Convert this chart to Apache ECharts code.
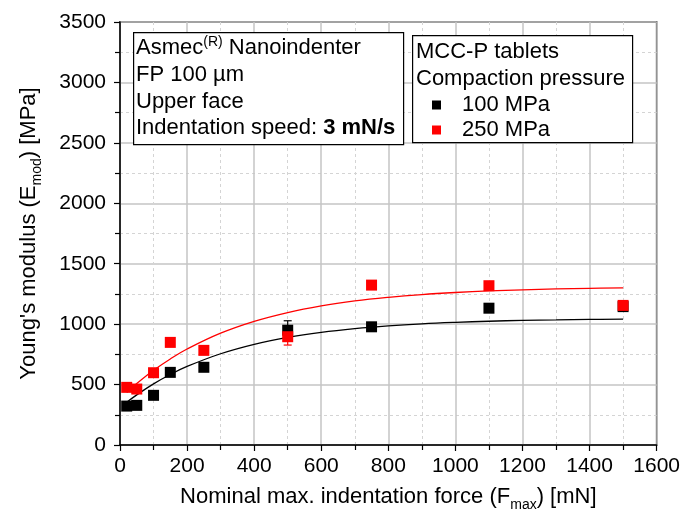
<!DOCTYPE html>
<html>
<head>
<meta charset="utf-8">
<script src="https://cdn.jsdelivr.net/npm/echarts@6/dist/echarts.min.js"></script>
<style>
html,body{margin:0;padding:0;background:#fff;}
#chart{width:683px;height:520px;}
</style>
</head>
<body>
<div id="chart"></div>
<script>
// Nominal max. indentation force [mN]
var forces = [20, 50, 100, 150, 250, 500, 750, 1100, 1500];
// Young's modulus [MPa]
var e100 = [322, 328, 411, 601, 643, 950, 978, 1132, 1145];
var e250 = [477, 463, 598, 849, 783, 896, 1323, 1318, 1155];
// error bars [x, low, high]
var err100 = [[500, 872, 1028]];
var err250 = [[500, 827, 965]];
// fitted curves
var fitX = [20, 50, 100, 150, 200, 300, 400, 500, 600, 700, 800, 900, 1000, 1100, 1200, 1300, 1400, 1500];
var fit100 = [354, 415, 506, 583, 650, 755, 833, 890, 932, 963, 986, 1003, 1015, 1024, 1031, 1035, 1039, 1042];
var fit250 = [435, 508, 618, 712, 794, 925, 1023, 1096, 1151, 1192, 1222, 1245, 1262, 1275, 1284, 1291, 1296, 1300];
var xTicks = [0, 200, 400, 600, 800, 1000, 1200, 1400, 1600];
var yTicks = [0, 500, 1000, 1500, 2000, 2500, 3000, 3500];

function pairs(xs, ys) { return xs.map(function (x, i) { return [x, ys[i]]; }); }

var FONT = '"Liberation Sans", Arial, sans-serif';
var chart = echarts.init(document.getElementById('chart'), null, {renderer: 'canvas'});

function errSeries(data, color) {
  return {
    type: 'custom',
    z: 1,
    renderItem: function (params, api) {
      var x = api.value(0);
      var lo = api.coord([x, api.value(1)]);
      var hi = api.coord([x, api.value(2)]);
      var w = 4;
      return {
        type: 'group',
        children: [
          {type: 'line', shape: {x1: lo[0], y1: lo[1], x2: hi[0], y2: hi[1]}, style: {stroke: color, lineWidth: 1.2}},
          {type: 'line', shape: {x1: hi[0] - w, y1: hi[1], x2: hi[0] + w, y2: hi[1]}, style: {stroke: color, lineWidth: 1.2}},
          {type: 'line', shape: {x1: lo[0] - w, y1: lo[1], x2: lo[0] + w, y2: lo[1]}, style: {stroke: color, lineWidth: 1.2}}
        ]
      };
    },
    data: data
  };
}

function plain(v) { return String(v); }

var option = {
  animation: false,
  backgroundColor: '#fff',
  textStyle: {fontFamily: FONT},
  grid: {left: 120, right: 26, top: 22, bottom: 75, show: true, borderColor: '#000', borderWidth: 1.5, backgroundColor: 'transparent'},
  xAxis: {
    type: 'value', min: xTicks[0], max: xTicks[xTicks.length - 1], interval: 200,
    name: '{n|Nominal max. indentation force (F}{s|max}{n|) [mN]}',
    nameLocation: 'middle', nameGap: 39,
    nameTextStyle: {
      rich: {
        n: {fontSize: 22, fontFamily: FONT, color: '#000', lineHeight: 26},
        s: {fontSize: 14, fontFamily: FONT, color: '#000', lineHeight: 12, verticalAlign: 'top', padding: [14, 0, 0, 0]}
      }
    },
    axisLine: {show: true, onZero: false, lineStyle: {color: '#000', width: 1.5}},
    axisTick: {show: true, inside: false, length: 6, lineStyle: {color: '#000', width: 1.2}},
    minorTick: {show: true, splitNumber: 2, length: 5, lineStyle: {color: '#000', width: 1.2}},
    axisLabel: {fontSize: 21, color: '#000', fontFamily: FONT, margin: 11, formatter: plain},
    splitLine: {show: true, lineStyle: {color: '#c4c4c4', width: 1.5}},
    minorSplitLine: {show: true, lineStyle: {color: '#d4d4d4', width: 1, type: [3, 3]}}
  },
  yAxis: {
    type: 'value', min: yTicks[0], max: yTicks[yTicks.length - 1], interval: 500,
    name: '{n|Young\'s modulus (E}{s|mod}{n|) [MPa]}',
    nameLocation: 'middle', nameGap: 78, nameRotate: 90,
    nameTextStyle: {
      rich: {
        n: {fontSize: 22, fontFamily: FONT, color: '#000', lineHeight: 26},
        s: {fontSize: 14, fontFamily: FONT, color: '#000', lineHeight: 12, verticalAlign: 'top', padding: [14, 0, 0, 0]}
      }
    },
    axisLine: {show: true, onZero: false, lineStyle: {color: '#000', width: 1.5}},
    axisTick: {show: true, inside: false, length: 6, lineStyle: {color: '#000', width: 1.2}},
    minorTick: {show: true, splitNumber: 2, length: 5, lineStyle: {color: '#000', width: 1.2}},
    axisLabel: {fontSize: 21, color: '#000', fontFamily: FONT, margin: 14, formatter: plain},
    splitLine: {show: true, lineStyle: {color: '#c4c4c4', width: 1.5}},
    minorSplitLine: {show: true, lineStyle: {color: '#d4d4d4', width: 1, type: [3, 3]}}
  },
  legend: {
    show: true, orient: 'vertical', left: 432, top: 94, padding: 0, itemGap: 3, z: 20,
    itemWidth: 9, itemHeight: 9, icon: 'rect',
    textStyle: {fontSize: 22, color: '#000', fontFamily: FONT, padding: [0, 0, 0, 16]},
    data: ['100 MPa', '250 MPa']
  },
  series: [
    {type: 'line', name: 'fit100', data: pairs(fitX, fit100), smooth: 0.4, showSymbol: false, lineStyle: {color: '#000', width: 1.3}, z: 2},
    {type: 'line', name: 'fit250', data: pairs(fitX, fit250), smooth: 0.4, showSymbol: false, lineStyle: {color: '#ff0000', width: 1.3}, z: 2},
    errSeries(err100, '#000'),
    errSeries(err250, '#ff0000'),
    {type: 'scatter', name: '100 MPa', data: pairs(forces, e100), symbol: 'rect', symbolSize: 11, itemStyle: {color: '#000', opacity: 1}, z: 3},
    {type: 'scatter', name: '250 MPa', data: pairs(forces, e250), symbol: 'rect', symbolSize: 11, itemStyle: {color: '#ff0000', opacity: 1}, z: 4}
  ],
  graphic: [
    {type: 'rect', left: 133, top: 32, shape: {width: 270, height: 112}, style: {fill: '#fff', stroke: '#000', lineWidth: 1.2}, z: 10},
    {type: 'text', x: 136, y: 48, z: 11, style: {
      text: '{n|Asmec}{p|(R)}{n| Nanoindenter}', verticalAlign: 'middle',
      rich: {n: {fontSize: 22, fontFamily: FONT, fill: '#000', lineHeight: 26}, p: {fontSize: 14, fontFamily: FONT, fill: '#000', lineHeight: 14, verticalAlign: 'top'}}
    }},
    {type: 'text', x: 136, y: 75, z: 11, style: {text: 'FP 100 µm', font: '22px ' + FONT, fill: '#000', verticalAlign: 'middle'}},
    {type: 'text', x: 136, y: 102, z: 11, style: {text: 'Upper face', font: '22px ' + FONT, fill: '#000', verticalAlign: 'middle'}},
    {type: 'text', x: 136, y: 128, z: 11, style: {
      text: '{n|Indentation speed: }{b|3 mN/s}', verticalAlign: 'middle',
      rich: {n: {fontSize: 22, fontFamily: FONT, fill: '#000'}, b: {fontSize: 22, fontFamily: FONT, fontWeight: 'bold', fill: '#000'}}
    }},
    {type: 'rect', left: 412, top: 35, shape: {width: 220, height: 107}, style: {fill: '#fff', stroke: '#000', lineWidth: 1.2}, z: 10},
    {type: 'text', x: 416, y: 52, z: 11, style: {text: 'MCC-P tablets', font: '22px ' + FONT, fill: '#000', verticalAlign: 'middle'}},
    {type: 'text', x: 416, y: 79, z: 11, style: {text: 'Compaction pressure', font: '22px ' + FONT, fill: '#000', verticalAlign: 'middle'}}
  ]
};
chart.setOption(option);
</script>
</body>
</html>
